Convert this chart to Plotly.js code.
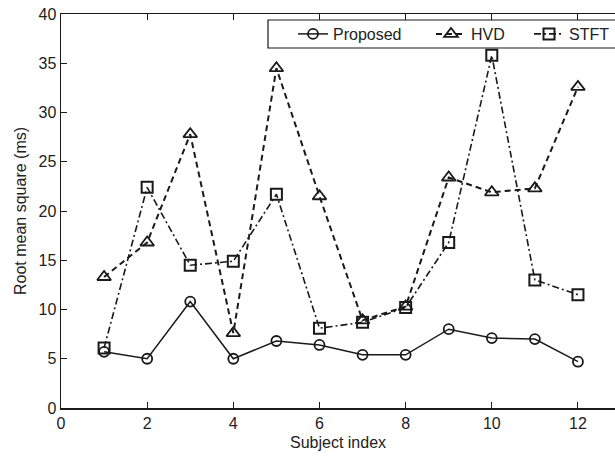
<!DOCTYPE html>
<html>
<head>
<meta charset="utf-8">
<script src="https://cdn.plot.ly/plotly-3.0.1.min.js"></script>
<style>html,body{margin:0;padding:0;background:#fff;}#chart{width:615px;height:457px;}</style>
</head>
<body>
<div id="chart"></div>
<script>
const subjects = [1,2,3,4,5,6,7,8,9,10,11,12];
const proposed = [5.7,5.0,10.8,5.0,6.8,6.4,5.4,5.4,8.0,7.1,7.0,4.7];
const hvd = [13.3,16.8,27.8,7.6,34.5,21.5,8.9,10.3,23.4,21.9,22.3,32.6];
const stft = [6.1,22.4,14.5,14.9,21.7,8.1,8.7,10.2,16.8,35.8,13.0,11.5];

const FONT = '"Liberation Sans Narrow", "Arial Narrow", "Liberation Sans", Arial, sans-serif';
const ink = '#1a1a1a';
const W = 615, H = 457, ML = 61, MT = 14, MB = 49;
const PW = W - ML, PH = H - MT - MB;
const px = v => (v - ML) / PW;          // pixel x -> paper x
const py = v => (H - MB - v) / PH;      // pixel y -> paper y

const traces = [
  {x: subjects, y: proposed, name: 'Proposed', mode: 'lines+markers', legend: 'legend',
   line: {color: ink, width: 1.5, dash: 'solid'},
   marker: {symbol: 'circle-open', size: 10, color: ink, line: {width: 1.8, color: ink}}},
  {x: subjects, y: hvd, name: 'HVD', mode: 'lines+markers', legend: 'legend2',
   line: {color: ink, width: 2, dash: '6px,4px'},
   marker: {symbol: 'triangle-up-open', size: 12, color: ink, line: {width: 1.8, color: ink}}},
  {x: subjects, y: stft, name: 'STFT', mode: 'lines+markers', legend: 'legend3',
   line: {color: ink, width: 1.6, dash: '7px,3px,2px,3px'},
   marker: {symbol: 'square-open', size: 11, color: ink, line: {width: 2, color: ink}}}
];

const legBase = {orientation: 'h', xanchor: 'left', yanchor: 'middle', y: py(34),
  bgcolor: 'rgba(0,0,0,0)', borderwidth: 0,
  font: {family: FONT, size: 16, color: '#222'}};

const layout = {
  width: W, height: H,
  margin: {l: ML, r: 0, t: MT, b: MB},
  paper_bgcolor: '#fff', plot_bgcolor: '#fff',
  font: {family: FONT, size: 16, color: '#222'},
  showlegend: true,
  legend: Object.assign({}, legBase, {x: px(293)}),
  legend2: Object.assign({}, legBase, {x: px(431)}),
  legend3: Object.assign({}, legBase, {x: px(529)}),
  shapes: [{type: 'rect', xref: 'paper', yref: 'paper', x0: px(268), x1: px(640),
            y0: py(48), y1: py(20), line: {color: ink, width: 1.2}, fillcolor: '#fff', layer: 'above'}],
  xaxis: {range: [0, 12.86], tickvals: [0,2,4,6,8,10,12], ticks: 'inside', ticklen: 6,
          tickcolor: ink, showline: true, linecolor: ink, linewidth: 1.5, mirror: 'ticks',
          showgrid: false, zeroline: false,
          title: {text: 'Subject index', font: {family: FONT, size: 16, color: '#222'}, standoff: 6}},
  yaxis: {range: [0, 40], tickvals: [0,5,10,15,20,25,30,35,40], ticks: 'inside', ticklen: 6,
          tickcolor: ink, showline: true, linecolor: ink, linewidth: 1.5, mirror: false,
          showgrid: false, zeroline: false,
          title: {text: 'Root mean square (ms)', font: {family: FONT, size: 16, color: '#222'}, standoff: 8}}
};

Plotly.newPlot('chart', traces, layout, {displayModeBar: false, staticPlot: true});
</script>
</body>
</html>
